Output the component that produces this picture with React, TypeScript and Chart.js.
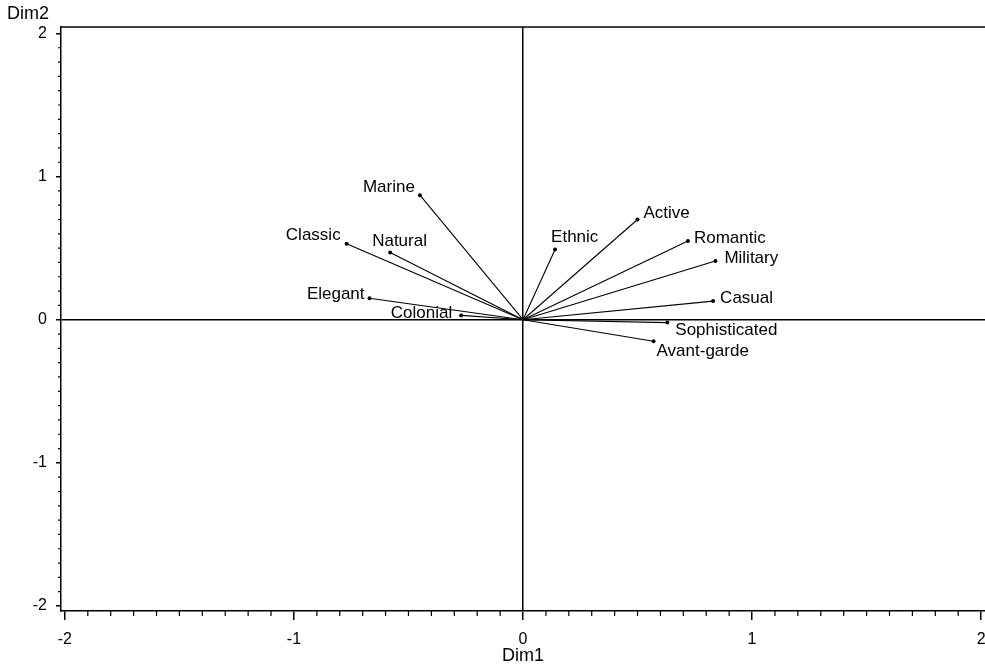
import React, { useEffect, useRef } from "react";
import { Chart, registerables } from "chart.js";

Chart.register(...registerables);

// ---- data ----
const attributes = [
  "Marine", "Classic", "Natural", "Elegant", "Colonial", "Ethnic",
  "Active", "Romantic", "Military", "Casual", "Sophisticated", "Avant-garde",
];
const dim1 = [-0.45, -0.77, -0.58, -0.67, -0.27, 0.14, 0.5, 0.72, 0.84, 0.83, 0.63, 0.57];
const dim2 = [0.87, 0.53, 0.47, 0.15, 0.03, 0.49, 0.7, 0.55, 0.41, 0.13, -0.02, -0.15];
const xTickLabels = ["-2", "-1", "0", "1", "2"];
const yTickLabels = ["-2", "-1", "0", "1", "2"];
const xTitle = "Dim1";
const yTitle = "Dim2";

// ---- label placement (styles, not data) ----
const labelPlacement: { dx: number; dy: number; align: CanvasTextAlign }[] = [
  { dx: -5, dy: -8, align: "right" },   // Marine
  { dx: -6, dy: -9, align: "right" },   // Classic
  { dx: -18, dy: -11, align: "left" },  // Natural
  { dx: -5, dy: -4, align: "right" },   // Elegant
  { dx: -9, dy: -2, align: "right" },   // Colonial
  { dx: -4, dy: -12, align: "left" },   // Ethnic
  { dx: 6, dy: -6, align: "left" },     // Active
  { dx: 6, dy: -3, align: "left" },     // Romantic
  { dx: 9, dy: -3, align: "left" },     // Military
  { dx: 7, dy: -3, align: "left" },     // Casual
  { dx: 8, dy: 8, align: "left" },      // Sophisticated
  { dx: 3, dy: 10, align: "left" },     // Avant-garde
];

const FONT = '"Liberation Sans", Arial, Helvetica, sans-serif';

const decorPlugin = {
  id: "decor",
  afterDraw(chart: any) {
    const ctx = chart.ctx as CanvasRenderingContext2D;
    const xs = chart.scales.x;
    const ys = chart.scales.y;
    const area = chart.chartArea;
    ctx.save();
    ctx.strokeStyle = "#000";
    // top frame
    ctx.lineWidth = 1.5;
    ctx.beginPath();
    ctx.moveTo(area.left, area.top);
    ctx.lineTo(area.right, area.top);
    ctx.stroke();
    // minor ticks
    ctx.lineWidth = 1.2;
    ctx.beginPath();
    for (let i = -20; i <= 20; i++) {
      if (i % 10 === 0) continue;
      const px = xs.getPixelForValue(i / 10);
      ctx.moveTo(px, xs.top);
      ctx.lineTo(px, xs.top + 5);
      const py = ys.getPixelForValue(i / 10);
      ctx.moveTo(ys.right - 3, py);
      ctx.lineTo(ys.right, py);
    }
    ctx.stroke();
    // point labels
    ctx.fillStyle = "#000";
    ctx.font = `17px ${FONT}`;
    ctx.textBaseline = "middle";
    attributes.forEach((name, i) => {
      const meta = chart.getDatasetMeta(i);
      const pt = meta.data[1];
      if (!pt) return;
      const p = labelPlacement[i];
      ctx.textAlign = p.align;
      ctx.fillText(name, pt.x + p.dx, pt.y + p.dy);
    });
    // y axis title (horizontal, top-left)
    ctx.textAlign = "left";
    ctx.textBaseline = "middle";
    ctx.font = `18px ${FONT}`;
    ctx.fillText(yTitle, 7, 14);
    ctx.restore();
  },
};

export default function App() {
  const ref = useRef<HTMLCanvasElement | null>(null);

  useEffect(() => {
    if (!ref.current) return;
    const datasets = attributes.map((name, i) => ({
      label: name,
      data: [
        { x: 0, y: 0 },
        { x: dim1[i], y: dim2[i] },
      ],
      showLine: true,
      borderColor: "#000",
      borderWidth: 1.1,
      pointRadius: [0, 2],
      pointBackgroundColor: "#000",
      pointBorderColor: "#000",
      pointBorderWidth: 0,
    }));

    const zeroColor = (c: any) =>
      c.tick && Math.abs(c.tick.value) < 1e-9 ? "#000" : "rgba(0,0,0,0)";

    const chart = new Chart(ref.current, {
      type: "scatter",
      data: { datasets },
      options: {
        animation: false,
        responsive: false,
        events: [],
        layout: { padding: { top: 27, left: 0, right: 0, bottom: 0 }, autoPadding: false },
        plugins: { legend: { display: false }, tooltip: { enabled: false } },
        scales: {
          x: {
            type: "linear",
            min: -2.017,
            max: 2.017,
            afterFit: (s: any) => {
              s.height = 54;
              s.paddingLeft = 0;
              s.paddingRight = 0;
            },
            border: { color: "#000", width: 1.5 },
            grid: {
              color: zeroColor,
              lineWidth: 1.5,
              tickColor: "#000",
              tickWidth: 1.5,
              tickLength: 9,
            },
            ticks: {
              stepSize: 1,
              includeBounds: false,
              padding: 10,
              color: "#000",
              font: { family: FONT, size: 16 },
              callback: (v: any) => {
                const idx = Math.round(Number(v)) + 2;
                return xTickLabels[idx] ?? "";
              },
            },
            title: {
              display: true,
              text: xTitle,
              color: "#000",
              font: { family: FONT, size: 18, lineHeight: 1.0 },
              padding: { top: 0, bottom: 0 },
            },
          },
          y: {
            type: "linear",
            min: -2.035,
            max: 2.045,
            afterFit: (s: any) => {
              s.width = 61;
              s.paddingTop = 0;
              s.paddingBottom = 0;
            },
            border: { color: "#000", width: 1.5 },
            grid: {
              color: zeroColor,
              lineWidth: 1.5,
              tickColor: "#000",
              tickWidth: 1.5,
              tickLength: 5,
            },
            ticks: {
              stepSize: 1,
              includeBounds: false,
              padding: 9,
              color: "#000",
              font: { family: FONT, size: 16 },
              callback: (v: any) => {
                const idx = Math.round(Number(v)) + 2;
                return yTickLabels[idx] ?? "";
              },
            },
          },
        },
      },
      plugins: [decorPlugin],
    } as any);
    return () => chart.destroy();
  }, []);

  return (
    <canvas
      ref={ref}
      width={985}
      height={665}
      style={{ position: "absolute", left: 0, top: 0, width: 985, height: 665, display: "block" }}
    />
  );
}
